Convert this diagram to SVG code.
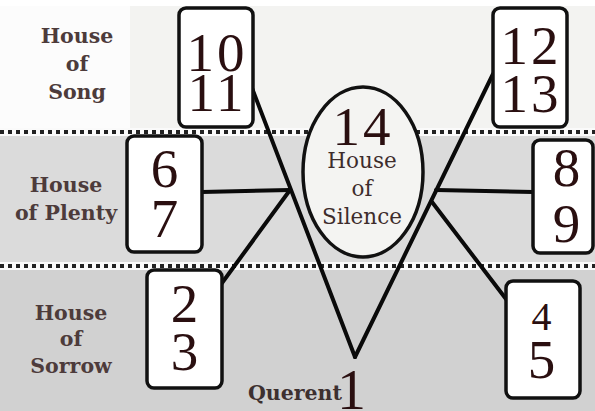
<svg xmlns="http://www.w3.org/2000/svg" width="595" height="411" viewBox="0 0 595 411">
<style>
.box{fill:#ffffff;stroke:#111;stroke-width:3.5}
.dig{font-family:"Liberation Serif",serif;font-size:55px;fill:#2a0f10;text-anchor:middle;letter-spacing:3px}
.lbl{font-family:"DejaVu Serif",serif;font-weight:bold;font-size:20.5px;fill:#4d3b3b;text-anchor:middle}
.sil{font-family:"DejaVu Serif",serif;font-size:21.5px;fill:#3d2c2c;text-anchor:middle}
.ln{stroke:#0a0a0a;stroke-width:4;fill:none;stroke-linecap:round}
.dots{stroke:#222;stroke-width:4;stroke-dasharray:4 4;fill:none}
.halo{stroke:#fafafa;stroke-width:8;fill:none}
</style>
<g id="background">
<rect x="0" y="0" width="595" height="132" fill="#f3f3f1"/>
<rect x="0" y="0" width="130" height="132" fill="#fcfcfc"/>
<rect x="0" y="0" width="595" height="6" fill="#ffffff"/>
<rect x="0" y="132" width="595" height="134" fill="#dbdbdb"/>
<rect x="0" y="266" width="595" height="145" fill="#d1d1d1"/>
<line class="halo" x1="0" y1="132" x2="595" y2="132"/>
<line class="halo" x1="0" y1="266" x2="595" y2="266"/>
<line class="dots" x1="0" y1="132" x2="595" y2="132"/>
<line class="dots" x1="0" y1="266" x2="595" y2="266"/>
</g>
<g id="labels">
<text class="lbl" x="77" y="43">House</text>
<text class="lbl" x="77" y="71">of</text>
<text class="lbl" x="77" y="99">Song</text>
<text class="lbl" x="66" y="192">House</text>
<text class="lbl" x="66" y="220">of Plenty</text>
<text class="lbl" x="71" y="320">House</text>
<text class="lbl" x="71" y="346">of</text>
<text class="lbl" x="71" y="373">Sorrow</text>
</g>
<g id="connectors">
<line class="ln" x1="252" y1="88" x2="355" y2="357"/>
<line class="ln" x1="355" y1="357" x2="493" y2="74"/>
<line class="ln" x1="202" y1="192" x2="290" y2="190"/>
<line class="ln" x1="222" y1="283" x2="290" y2="190"/>
<line class="ln" x1="436" y1="190" x2="533" y2="192"/>
<line class="ln" x1="432" y1="202" x2="506" y2="299"/>
</g>
<g id="n10">
<rect class="box" x="179" y="8" width="74" height="119" rx="7"/>
<text class="dig" x="217" y="71">10</text>
<text class="dig" x="217" y="111">11</text>
</g>
<g id="n12">
<rect class="box" x="493" y="8" width="74" height="119" rx="7"/>
<text class="dig" x="531" y="64">12</text>
<text class="dig" x="531" y="112">13</text>
</g>
<g id="n6">
<rect class="box" x="127" y="136" width="75" height="116" rx="7"/>
<text class="dig" x="166" y="187">6</text>
<text class="dig" x="166" y="237">7</text>
</g>
<g id="n8">
<rect class="box" x="533" y="140" width="60" height="113" rx="7"/>
<text class="dig" x="568" y="186">8</text>
<text class="dig" x="568" y="242">9</text>
</g>
<g id="n2">
<rect class="box" x="147" y="270" width="75" height="118" rx="7"/>
<text class="dig" x="186" y="322">2</text>
<text class="dig" x="186" y="370">3</text>
</g>
<g id="n4">
<rect class="box" x="506" y="281" width="74" height="117" rx="7"/>
<text class="dig" x="543" y="330" style="font-size:40px">4</text>
<text class="dig" x="543" y="378">5</text>
</g>
<g id="n14">
<ellipse cx="363" cy="172" rx="60" ry="85" fill="#f4f4f2" stroke="#111" stroke-width="3.5"/>
<text class="dig" x="363" y="145">14</text>
<text class="sil" x="362" y="168">House</text>
<text class="sil" x="362" y="196">of</text>
<text class="sil" x="362" y="224">Silence</text>
</g>
<g id="n1">
<text class="lbl" x="342" y="400" style="text-anchor:end;fill:#3d3030">Querent</text>
<text class="dig" x="353" y="409" style="font-size:58px">1</text>
</g>
</svg>
